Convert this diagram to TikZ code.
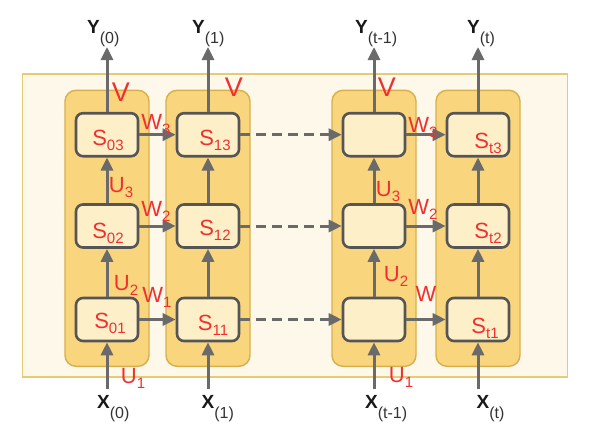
\documentclass[tikz,border=0pt]{standalone}
\usepackage{fontspec}
\setmainfont{Liberation Sans}
\usetikzlibrary{arrows.meta}
\definecolor{outerfill}{HTML}{FEF8EB}
\definecolor{outerline}{HTML}{E6CB72}
\definecolor{colfill}{HTML}{F9D67E}
\definecolor{colline}{HTML}{D6B04C}
\definecolor{cellfill}{HTML}{FDEFC8}
\definecolor{cellline}{HTML}{555555}
\definecolor{arr}{HTML}{6A6A6A}
\definecolor{pen}{HTML}{F03030}
\newcommand\hsub[2]{#1\raisebox{-5pt}{\fontsize{15}{15}\selectfont #2}}
\newcommand\lab[2]{\textbf{#1}\raisebox{-10pt}{\fontsize{16}{16}\selectfont\color{black!80}#2}}
\begin{document}
\begin{tikzpicture}[x=1pt,y=-1pt,
  colbox/.style={draw=colline,fill=colfill,line width=1.4pt,rounded corners=11pt,
    minimum width=84pt,minimum height=276pt,inner sep=0pt},
  cell/.style={draw=cellline,fill=cellfill,line width=2.6pt,rounded corners=7pt,
    minimum width=62pt,minimum height=43pt,inner sep=0pt},
  conn/.style={draw=arr,line width=3pt,-{Triangle[length=13pt,width=12pt]}},
  dconn/.style={conn,dash pattern=on 10pt off 6pt},
  lbl/.style={anchor=base west,inner sep=0pt,font=\fontsize{19}{19}\selectfont,text=black!90},
  hand/.style={inner sep=0pt,text=pen,font=\fontsize{22}{22}\selectfont}
]
\useasboundingbox (0,0) rectangle (590,442);
\fill[white] (0,0) rectangle (590,442);
\draw[draw=outerline,fill=outerfill,line width=1.4pt] (22.7,74) rectangle (567.7,377);
% columns
\foreach \n/\x in {0/107,1/208,2/374,3/478}{
  \node[colbox] (c\n) at (\x,228.3) {};
  \node[cell] (s\n-3) at (\x,134.7) {};
  \node[cell] (s\n-2) at (\x,226) {};
  \node[cell] (s\n-1) at (\x,319.5) {};
}
% labels
\node[lbl] (y0) at (87,33) {\lab{Y}{(0)}};
\node[lbl] (y1) at (192,33) {\lab{Y}{(1)}};
\node[lbl] (y2) at (355,33) {\lab{Y}{(t-1)}};
\node[lbl] (y3) at (467,33) {\lab{Y}{(t)}};
\node[lbl] (x0) at (97,408.5) {\lab{X}{(0)}};
\node[lbl] (x1) at (201.5,408.5) {\lab{X}{(1)}};
\node[lbl] (x2) at (365,408.5) {\lab{X}{(t-1)}};
\node[lbl] (x3) at (476.5,408.5) {\lab{X}{(t)}};
\foreach \n/\x in {0/107,1/208,2/374,3/478}{
  \coordinate (yt\n) at (\x,47);
  \coordinate (xb\n) at (\x,389);
  \draw[conn] (s\n-3.north) -- (yt\n);
  \draw[conn] (s\n-2.north) -- (s\n-3.south);
  \draw[conn] (s\n-1.north) -- (s\n-2.south);
  \draw[conn] (xb\n) -- (s\n-1.south);
}
\foreach \r in {1,2,3}{
  \draw[conn] (s0-\r.east) -- (s1-\r.west);
  \draw[dconn] (s1-\r.east) -- (s2-\r.west);
  \draw[conn] (s2-\r.east) -- (s3-\r.west);
}
% handwritten annotations
\node[hand,font=\fontsize{27}{27}\selectfont] (v0) at (121,92) {V};
\node[hand,font=\fontsize{27}{27}\selectfont] (v1) at (234,87) {V};
\node[hand,font=\fontsize{27}{27}\selectfont] (v2) at (387,87) {V};
\node[hand] (w03) at (156,125) {\hsub{W}{3}};
\node[hand] (w23) at (423,128) {\hsub{W}{3}};
\node[hand] (u03) at (121,188) {\hsub{U}{3}};
\node[hand] (u23) at (388,192) {\hsub{U}{3}};
\node[hand] (w02) at (156,211) {\hsub{W}{2}};
\node[hand] (w22) at (423,209) {\hsub{W}{2}};
\node[hand] (u02) at (126,285) {\hsub{U}{2}};
\node[hand] (u22) at (396,276) {\hsub{U}{2}};
\node[hand] (w01) at (157,297) {\hsub{W}{1}};
\node[hand] (w21) at (426,294) {W};
\node[hand] (u01) at (133,378) {\hsub{U}{1}};
\node[hand] (u21) at (401,377) {\hsub{U}{1}};
\node[hand] (l03) at (108,140) {\hsub{S}{03}};
\node[hand] (l13) at (215,140) {\hsub{S}{13}};
\node[hand] (l02) at (108,233) {\hsub{S}{02}};
\node[hand] (l12) at (215,230) {\hsub{S}{12}};
\node[hand] (l01) at (110,323) {\hsub{S}{01}};
\node[hand] (l11) at (213,325) {\hsub{S}{11}};
\node[hand] (l33) at (488,143) {\hsub{S}{t3}};
\node[hand] (l32) at (488,233) {\hsub{S}{t2}};
\node[hand] (l31) at (485,328) {\hsub{S}{t1}};
\end{tikzpicture}
\end{document}
